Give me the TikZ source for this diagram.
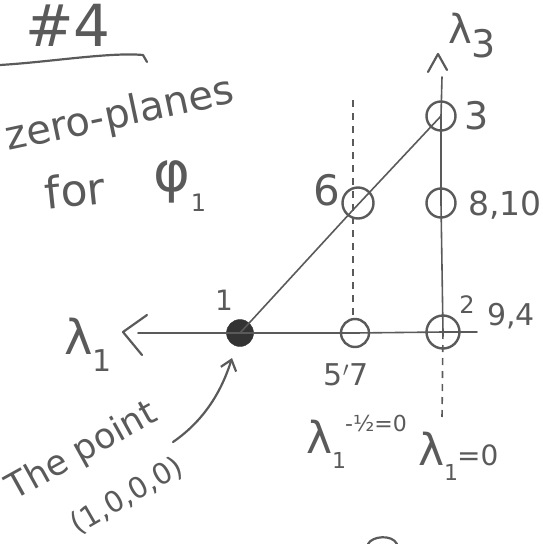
\documentclass[tikz,border=0pt]{standalone}
\usepackage{fontspec}
\setmainfont{DejaVu Sans}
\usetikzlibrary{arrows.meta}
\definecolor{ink}{HTML}{5A5A5A}
\definecolor{dark}{HTML}{333333}
\newcommand{\fs}[1]{\fontsize{#1}{#1}\selectfont}
\newcommand{\lowsub}[2]{\raisebox{-0.35em}{\fs{#1}#2}}
\tikzset{
  pen/.style={draw=ink, line width=2.2pt, line cap=round, line join=round},
  thinline/.style={draw=ink, line width=1.6pt, line cap=round},
  dashline/.style={draw=ink, line width=1.6pt, dash pattern=on 7pt off 6pt},
  ring/.style={circle, draw=ink, line width=2.4pt, minimum size=27pt, inner sep=0pt},
  hand/.style={text=ink, inner sep=0pt},
}
\begin{document}
\begin{tikzpicture}[x=1pt,y=-1pt]
\useasboundingbox (0,0) rectangle (543,544);
% title
\node[hand, anchor=base, font=\fs{58}] (title) at (68,46) {\#4};
\draw[pen] (0,65) .. controls (50,62) and (110,52) .. (143,55) -- (147,62);
\node[hand, rotate=12, font=\fs{40}] (zp) at (120,116) {zero-planes};
\node[hand, rotate=6, font=\fs{44}] (for) at (75,190) {for};
\node[hand, font=\fs{56}] (phi) at (180,186) {φ\lowsub{24}{1}};
% points
\node[circle, fill=dark, draw=dark, minimum size=27pt, inner sep=0pt] (p1) at (240,333) {};
\node[ring, minimum width=28pt, minimum height=25pt] (p5) at (355,333) {};
\node[ring, minimum width=30pt, minimum height=33pt] (p2) at (443,332) {};
\node[ring, minimum width=31pt, minimum height=28pt] (p6) at (358,203) {};
\node[ring, minimum width=25pt, minimum height=29pt] (p8) at (441,203) {};
\node[ring, minimum width=29pt, minimum height=26pt] (p3) at (441,116) {};
% axes
\coordinate (hl) at (138,333);
\coordinate (hr) at (477,332);
\coordinate (vt) at (442,77);
\coordinate (vd) at (442,418);
\coordinate (dt) at (353,100);
\coordinate (db) at (353,318);
\coordinate (k6) at (352,211);
\draw[thinline] (hl) -- (p1.center);
\draw[thinline] (p1.center) -- (p5.center) -- (p2.center) -- (hr);
\draw[thinline] (vt) -- (p3.center) -- (p8.center) -- (p2.center);
\draw[dashline] (p2.center) -- (vd);
\draw[dashline] (dt) -- (db);
\draw[thinline] (p1.center) -- (k6) -- (p3.center);
% arrowheads
\coordinate (la) at (123,332);
\draw[pen] (147,315) -- (la) -- (142,355);
\coordinate (ta) at (438,54);
\draw[pen] (428,72) -- (ta) -- (447,70);
% labels
\node[hand, font=\fs{40}] (l3) at (472,36) {λ\lowsub{38}{3}};
\node[hand, font=\fs{48}] (l1) at (88,345) {λ\lowsub{30}{1}};
\node[hand, font=\fs{28}] (n1) at (224,300) {1};
\node[hand, font=\fs{38}] (n3) at (477,116) {3};
\node[hand, font=\fs{33}] (n8) at (505,205) {8,10};
\node[hand, font=\fs{42}] (n6) at (327,190) {6};
\node[hand, font=\fs{24}] (n2) at (467,305) {2};
\node[hand, font=\fs{30}] (n9) at (511,316) {9,4};
\node[hand, font=\fs{30}] (n5) at (346,375) {5$'$7};
\node[hand, font=\fs{44}, anchor=base west] (lh) at (306,453) {λ\lowsub{22}{1}\hspace{-1pt}\raisebox{0.5em}{\fs{22}-½=0}};
\node[hand, font=\fs{44}, anchor=base west] (lz) at (418,465) {λ\lowsub{22}{1}\hspace{-1pt}\fs{28}=0};
\node[hand, rotate=29, font=\fs{35}] (tp) at (82,452) {The point};
\node[hand, rotate=30, font=\fs{29}] (pt) at (127,496) {(1,0,0,0)};
\coordinate (as) at (173,442);
\coordinate (ae) at (232,358);
\draw[pen, -{Straight Barb[length=10pt,width=16pt]}] (as) .. controls (205,420) and (222,390) .. (ae);
% partial shape at bottom
\draw[pen] (368,544) .. controls (372,536) and (392,534) .. (397,544);
\end{tikzpicture}
\end{document}
